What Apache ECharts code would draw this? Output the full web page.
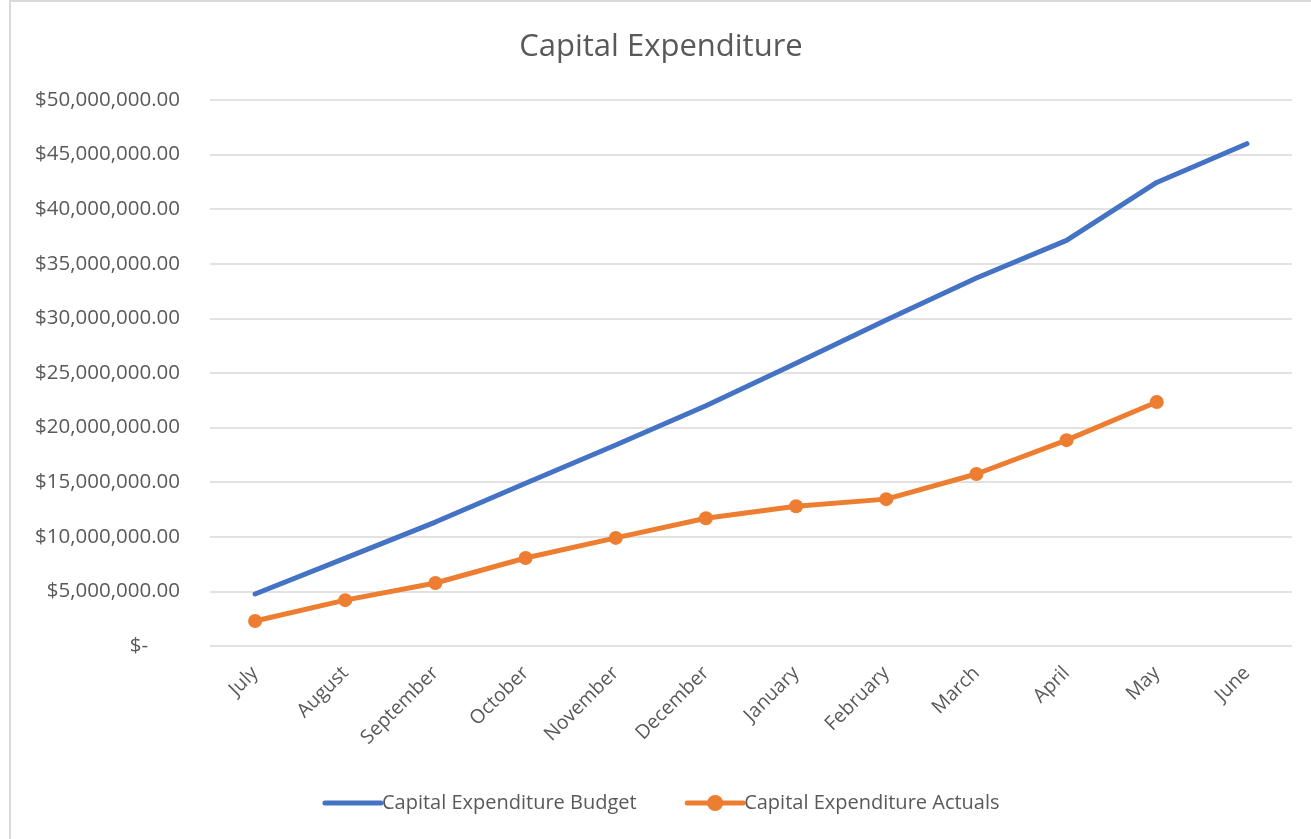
<!DOCTYPE html>
<html><head><meta charset="utf-8">
<script src="https://cdn.jsdelivr.net/npm/echarts@6/dist/echarts.min.js"></script>
<style>html,body{margin:0;padding:0;background:#fff;}#c{height:839px;box-sizing:border-box;border-left:2px solid #d9d9d9;border-top:2px solid #d9d9d9;margin-left:9px;width:1302px;}</style>
</head><body><div id="c"></div>
<script>
const months = ['July','August','September','October','November','December','January','February','March','April','May','June'];
const budget = [4760000, 8050000, 11350000, 14900000, 18400000, 22000000, 25900000, 29850000, 33700000, 37150000, 42450000, 46000000];
const actuals = [2290000, 4200000, 5770000, 8060000, 9900000, 11700000, 12800000, 13450000, 15750000, 18850000, 22350000, null];
const yTicks = {min: 0, max: 50000000, interval: 5000000};

const chart = echarts.init(document.getElementById('c'));
const font = "'Open Sans', 'Liberation Sans', sans-serif";
function fmt(v){
  if (v === 0) return '$-      ';
  return '$' + v.toLocaleString('en-US',{minimumFractionDigits:2,maximumFractionDigits:2});
}
chart.setOption({
  animation:false,
  title:{text:'Capital Expenditure',left:'center',top:25,textStyle:{fontFamily:font,fontSize:31,fontWeight:'normal',color:'#595959'}},
  grid:{left:199,right:19,top:98,bottom:193},
  legend:{bottom:21,left:'center',itemWidth:56,itemHeight:20,itemGap:48,
    textStyle:{fontFamily:font,fontSize:20,color:'#595959',padding:[0,0,0,-4]},
    lineStyle:{width:5},
    data:[{name:'Capital Expenditure Budget',itemStyle:{opacity:0}},{name:'Capital Expenditure Actuals'}]},
  xAxis:{type:'category',data:months,boundaryGap:true,
    axisLine:{show:false},axisTick:{show:false},
    axisLabel:{rotate:45,margin:24,fontFamily:font,fontSize:19.5,color:'#595959',interval:0}},
  yAxis:{type:'value',min:yTicks.min,max:yTicks.max,interval:yTicks.interval,
    axisLine:{show:false},axisTick:{show:false},
    splitLine:{lineStyle:{color:'#d9d9d9',width:1.5}},
    axisLabel:{formatter:fmt,margin:30,fontFamily:font,fontSize:20.5,color:'#595959'}},
  series:[
    {name:'Capital Expenditure Budget',type:'line',data:budget,symbol:'none',
      lineStyle:{color:'#4472C4',width:5,cap:'round'},itemStyle:{color:'#4472C4'}},
    {name:'Capital Expenditure Actuals',type:'line',data:actuals,symbol:'circle',symbolSize:14,showAllSymbol:true,
      lineStyle:{color:'#ED7D31',width:5,cap:'round'},itemStyle:{color:'#ED7D31'}}
  ]
});
</script></body></html>
